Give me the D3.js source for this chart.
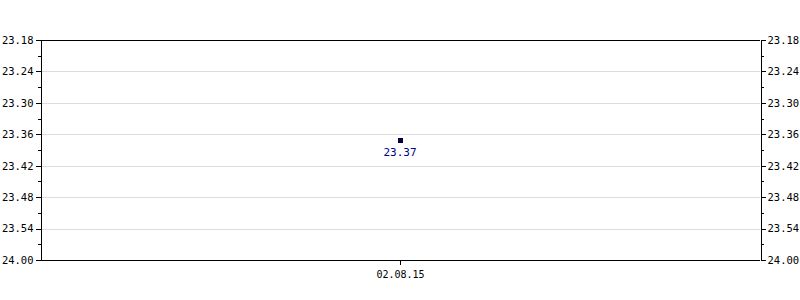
<!DOCTYPE html>
<html><head><meta charset="utf-8">
<script src="https://cdn.jsdelivr.net/npm/d3@7"></script>
<style>body{margin:0;background:#fff}svg{display:block}</style>
</head><body>
<svg id="c" width="800" height="300"></svg>
<script>
const dates = ["02.08.15"];
const values = [23.37];
const yTickValues = [23.18, 23.24, 23.30, 23.36, 23.42, 23.48, 23.54, 23.60];
const yTickLabels = ["23.18", "23.24", "23.30", "23.36", "23.42", "23.48", "23.54", "24.00"];

const W = 800, H = 300;
const m = {left: 40, right: 40, top: 40, bottom: 40};
const svg = d3.select("#c");
const font = "'DejaVu Sans Mono', monospace";

const x = d3.scalePoint().domain(dates).range([m.left, W - m.right]).padding(0.5);
const y = d3.scaleLinear().domain([yTickValues[0], yTickValues[yTickValues.length - 1]]).range([m.top, H - m.bottom]);

// minor tick values (midpoints)
const minor = [];
for (let i = 0; i < yTickValues.length - 1; i++) minor.push((yTickValues[i] + yTickValues[i + 1]) / 2);

// gridlines
svg.append("g").selectAll("line").data(yTickValues.slice(1, -1)).join("line")
  .attr("x1", m.left).attr("x2", W - m.right)
  .attr("y1", d => Math.round(y(d)) + 0.5).attr("y2", d => Math.round(y(d)) + 0.5)
  .attr("stroke", "#dcdcdc").attr("stroke-width", 1);

// frame top
svg.append("line").attr("x1", m.left).attr("x2", W - m.right)
  .attr("y1", m.top + 0.5).attr("y2", m.top + 0.5).attr("stroke", "#000");

const fmt = d => yTickLabels[yTickValues.indexOf(d)];

function styleAxis(g) {
  g.selectAll("text").attr("font-family", font).attr("font-size", 10.5).attr("fill", "#000");
  g.selectAll("path,line").attr("stroke", "#000").attr("shape-rendering", "crispEdges");
}

// left axis
const gl = svg.append("g").attr("transform", `translate(${m.left + 0.5},0)`)
  .call(d3.axisLeft(y).tickValues(yTickValues).tickFormat(fmt).tickSize(5).tickSizeOuter(0).tickPadding(2));
styleAxis(gl);
svg.append("g").attr("transform", `translate(${m.left + 0.5},0)`)
  .call(d3.axisLeft(y).tickValues(minor).tickFormat("").tickSize(3).tickSizeOuter(0))
  .call(g => g.select(".domain").remove()).call(styleAxis);

// right axis
const gr = svg.append("g").attr("transform", `translate(${W - m.right + 0.5},0)`)
  .call(d3.axisRight(y).tickValues(yTickValues).tickFormat(fmt).tickSize(5).tickSizeOuter(0).tickPadding(2));
styleAxis(gr);
svg.append("g").attr("transform", `translate(${W - m.right + 0.5},0)`)
  .call(d3.axisRight(y).tickValues(minor).tickFormat("").tickSize(3).tickSizeOuter(0))
  .call(g => g.select(".domain").remove()).call(styleAxis);

// bottom axis
const gb = svg.append("g").attr("transform", `translate(0,${H - m.bottom + 0.5})`)
  .call(d3.axisBottom(x).tickSize(4).tickSizeOuter(0).tickPadding(6));
styleAxis(gb);
gb.select(".domain").attr("d", `M${m.left},0H${W - m.right}`);
gb.selectAll("text").attr("font-size", 10);

// point
svg.append("g").selectAll("rect").data(values).join("rect")
  .attr("x", (d, i) => Math.round(x(dates[i])) - 2)
  .attr("y", d => Math.round(y(d)) - 2)
  .attr("width", 5).attr("height", 5)
  .attr("fill", "#000040").attr("stroke", "none");

svg.append("g").selectAll("text").data(values).join("text")
  .attr("x", (d, i) => x(dates[i]))
  .attr("y", d => y(d) + 16)
  .attr("text-anchor", "middle")
  .attr("font-family", font).attr("font-size", 11).attr("fill", "#000080")
  .text(d => d.toFixed(2));
</script>
</body></html>
